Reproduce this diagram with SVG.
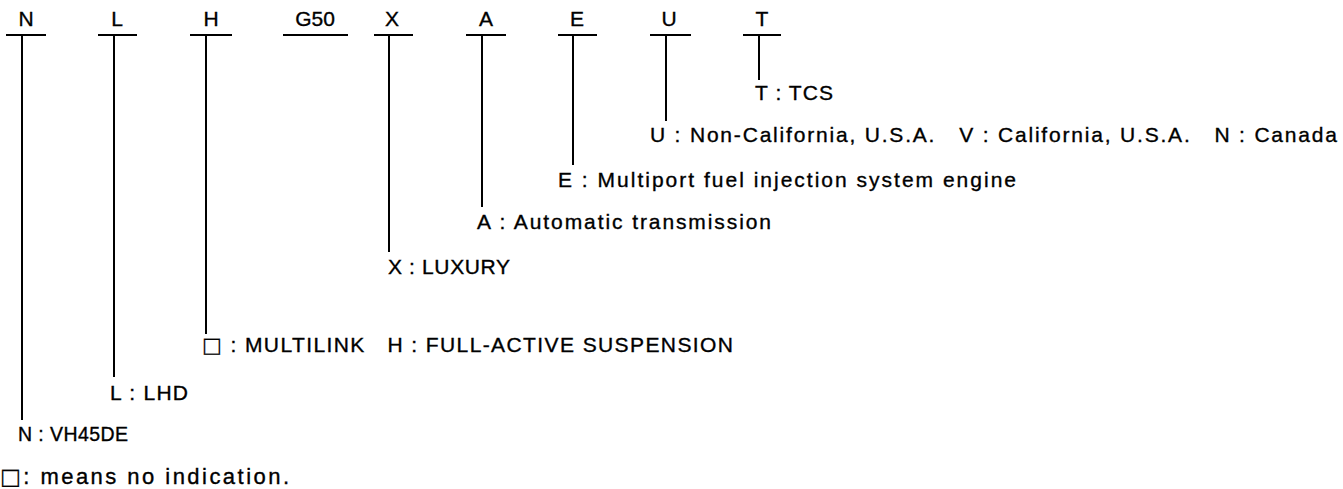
<svg xmlns="http://www.w3.org/2000/svg" width="1343" height="489" viewBox="0 0 1343 489">
<style>
text{font-family:"Liberation Sans",Arial,"DejaVu Sans",sans-serif;font-size:21px;fill:#000;stroke:#000;stroke-width:0.35}
.c{text-anchor:middle}
.sq{font-family:"DejaVu Sans",sans-serif;stroke-width:0.2}
.u{stroke:#000;stroke-width:2.2;fill:none}
.v{stroke:#000;stroke-width:2;fill:none}
</style>
<rect width="1343" height="489" fill="#fff"/>
<g id="code-N"><text class="c" x="26" y="26">N</text><line class="u" x1="6" y1="35" x2="46" y2="35"/></g>
<g id="code-L"><text class="c" x="117" y="26">L</text><line class="u" x1="98" y1="35" x2="137" y2="35"/></g>
<g id="code-H"><text class="c" x="211" y="26">H</text><line class="u" x1="190" y1="35" x2="232" y2="35"/></g>
<g id="code-G50"><text class="c" x="315" y="26">G50</text><line class="u" x1="283" y1="35" x2="348" y2="35"/></g>
<g id="code-X"><text class="c" x="392" y="26">X</text><line class="u" x1="374" y1="35" x2="413" y2="35"/></g>
<g id="code-A"><text class="c" x="486" y="26">A</text><line class="u" x1="466" y1="35" x2="506" y2="35"/></g>
<g id="code-E"><text class="c" x="577" y="26">E</text><line class="u" x1="558" y1="35" x2="597" y2="35"/></g>
<g id="code-U"><text class="c" x="669" y="26">U</text><line class="u" x1="650" y1="35" x2="691" y2="35"/></g>
<g id="code-T"><text class="c" x="762" y="26">T</text><line class="u" x1="743" y1="35" x2="781" y2="35"/></g>
<g id="connectors">
<line class="v" x1="22" y1="35" x2="22" y2="420"/>
<line class="v" x1="114" y1="35" x2="114" y2="377"/>
<line class="v" x1="206" y1="35" x2="206" y2="334"/>
<line class="v" x1="389" y1="35" x2="389" y2="252"/>
<line class="v" x1="482" y1="35" x2="482" y2="207"/>
<line class="v" x1="573" y1="35" x2="573" y2="165"/>
<line class="v" x1="666" y1="35" x2="666" y2="121"/>
<line class="v" x1="759" y1="35" x2="759" y2="80"/>
</g>
<g id="desc-T"><text x="755" y="100" textLength="78" lengthAdjust="spacing">T : TCS</text></g>
<g id="desc-U"><text x="650" y="142" textLength="687" lengthAdjust="spacing" xml:space="preserve">U : Non-California, U.S.A.   V : California, U.S.A.   N : Canada</text></g>
<g id="desc-E"><text x="558" y="187" textLength="458" lengthAdjust="spacing">E : Multiport fuel injection system engine</text></g>
<g id="desc-A"><text x="477" y="229" textLength="294" lengthAdjust="spacing">A : Automatic transmission</text></g>
<g id="desc-X"><text x="388" y="274" textLength="122" lengthAdjust="spacing">X : LUXURY</text></g>
<g id="desc-H"><text x="202" y="352" textLength="531" lengthAdjust="spacing" xml:space="preserve"><tspan class="sq">□</tspan> : MULTILINK   H : FULL-ACTIVE SUSPENSION</text></g>
<g id="desc-L"><text x="110" y="400" textLength="78" lengthAdjust="spacing">L : LHD</text></g>
<g id="desc-N"><text x="18" y="441" textLength="110" lengthAdjust="spacing" style="font-size:19.5px">N : VH45DE</text></g>
<g id="note"><text x="0" y="484" textLength="289" lengthAdjust="spacing" style="font-size:22px"><tspan class="sq">□</tspan>: means no indication.</text></g>
</svg>
